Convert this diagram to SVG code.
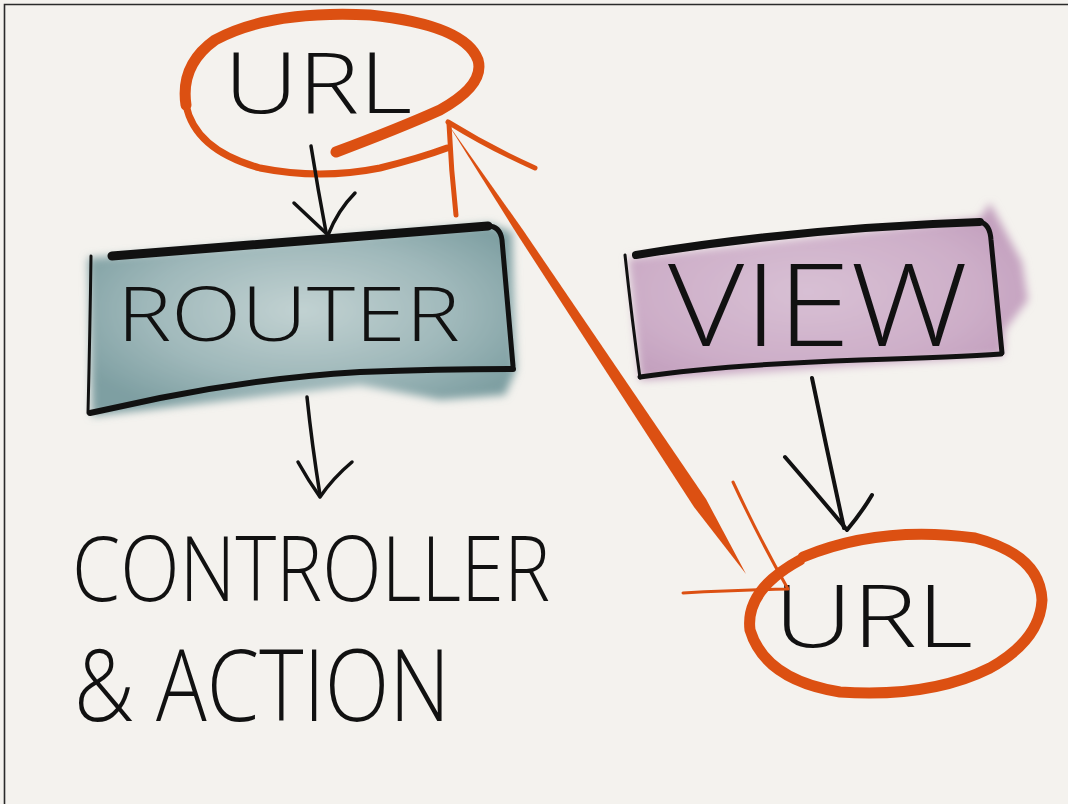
<svg xmlns="http://www.w3.org/2000/svg" width="1068" height="804" viewBox="0 0 1068 804">
  <defs>
    <filter id="soft" x="-10%" y="-20%" width="120%" height="140%">
      <feGaussianBlur stdDeviation="4"/>
    </filter>
    <radialGradient id="teal" cx="50%" cy="45%" r="60%">
      <stop offset="0" stop-color="#c2d2d2"/>
      <stop offset="0.6" stop-color="#9fb8ba"/>
      <stop offset="1" stop-color="#7e9fa2"/>
    </radialGradient>
    <radialGradient id="plum" cx="45%" cy="50%" r="60%">
      <stop offset="0" stop-color="#d8c0d4"/>
      <stop offset="0.7" stop-color="#cdaec8"/>
      <stop offset="1" stop-color="#c3a0be"/>
    </radialGradient>
    <style>
      .ink { fill: none; stroke: #111; stroke-linecap: round; stroke-linejoin: round; }
      .or { fill: none; stroke: #dc5012; stroke-linecap: round; stroke-linejoin: round; }
      .hand { font-family: "Open Sans", "Noto Sans", "Liberation Sans", sans-serif; font-weight: 300; fill: #111; }
    </style>
  </defs>

  <rect width="1068" height="804" fill="#f4f2ee"/>
  <path d="M4.5,804 V4.5 H1068" fill="none" stroke="#2a2a2a" stroke-width="1.6"/>

  <g id="router">
    <path d="M88,258 L490,224 L512,232 L516,370 L505,395 L440,400 L360,385 L92,416 Z" fill="url(#teal)" filter="url(#soft)"/>
    <path class="ink" stroke-width="9" d="M112,256 L488,226"/>
    <path class="ink" stroke-width="5" d="M488,226 Q500,226 502,240 L513,366"/>
    <path class="ink" stroke-width="6" d="M513,369 Q440,369 360,372 Q260,378 160,398 L90,413"/>
    <path class="ink" stroke-width="3" d="M91,256 Q90,330 88,413"/>
    <text class="hand" x="117" y="341" font-size="76" textLength="343" lengthAdjust="spacingAndGlyphs">ROUTER</text>
  </g>

  <g id="view">
    <path d="M628,258 L980,218 L990,203 L1022,262 L1028,300 L1005,330 L1003,356 L640,380 Z" fill="url(#plum)" filter="url(#soft)"/>
    <path class="ink" stroke-width="8" d="M636,255 Q800,228 980,222"/>
    <path class="ink" stroke-width="5" d="M980,222 Q990,224 991,240 L1002,353"/>
    <path class="ink" stroke-width="5" d="M1001,354 Q960,357 860,360 Q720,365 640,377"/>
    <path class="ink" stroke-width="3" d="M625,255 Q632,320 640,378"/>
    <text class="hand" x="668" y="346" font-size="114" textLength="300" lengthAdjust="spacingAndGlyphs">VIEW</text>
  </g>

  <g id="url-top">
    <path class="or" stroke-width="11" d="M336,152 Q400,128 440,110 Q485,85 478,60 Q465,25 370,15 Q270,10 215,40 Q180,65 186,105"/>
    <path class="or" stroke-width="7" d="M186,105 Q195,150 260,168 Q320,180 380,168 Q420,158 447,148"/>
    <text class="hand" x="224" y="113" font-size="84" textLength="188" lengthAdjust="spacingAndGlyphs">URL</text>
  </g>

  <g id="url-bottom">
    <path class="or" stroke-width="11" d="M803,557 Q880,525 975,538 Q1040,555 1042,600 Q1040,640 990,668 Q930,698 840,692 Q765,680 750,630 Q745,590 800,560"/>
    <text class="hand" x="774" y="647" font-size="86" textLength="199" lengthAdjust="spacingAndGlyphs">URL</text>
  </g>

  <g id="controller">
    <text class="hand" x="72" y="601" font-size="90" textLength="478" lengthAdjust="spacingAndGlyphs">CONTROLLER</text>
    <text class="hand" x="74" y="721" font-size="100" textLength="376" lengthAdjust="spacingAndGlyphs">&amp; ACTION</text>
  </g>

  <g id="connectors">
    <path class="ink" stroke-width="3.5" d="M311,146 Q318,190 326,232"/>
    <path class="ink" stroke-width="3.5" d="M294,203 Q312,220 328,235 Q338,210 355,193"/>
    <path class="ink" stroke-width="3.5" d="M307,397 Q312,445 320,495"/>
    <path class="ink" stroke-width="3.5" d="M298,462 Q308,480 320,497 Q333,478 352,462"/>
    <path class="ink" stroke-width="4" d="M812,378 Q828,455 844,528"/>
    <path class="ink" stroke-width="4" d="M785,457 Q818,495 847,530 Q862,512 872,495"/>
    <polygon fill="#dc5012" points="448,124 523,230 706,499 746,574 694,507 517,234"/>
    <path class="or" stroke-width="5" d="M448,122 Q490,148 535,168"/>
    <path class="or" stroke-width="5" d="M449,124 Q451,170 456,215"/>
    <path class="or" stroke-width="3" d="M733,482 Q760,540 788,589 Q740,590 683,593"/>
  </g>
</svg>
